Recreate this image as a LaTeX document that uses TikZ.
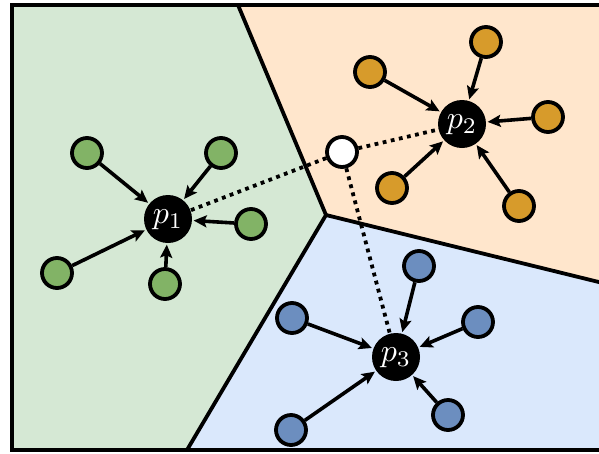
\documentclass[tikz,border=0pt]{standalone}
\usepackage{graphicx}
\usetikzlibrary{arrows.meta}
\definecolor{gregion}{HTML}{D5E8D4}
\definecolor{gnode}{HTML}{82B366}
\definecolor{oregion}{HTML}{FFE6CC}
\definecolor{onode}{HTML}{D79B2B}
\definecolor{bregion}{HTML}{DAE8FC}
\definecolor{bnode}{HTML}{6C8EBF}
\newcommand{\biglab}[1]{\scalebox{3.2}{$#1$}}
\tikzset{
  small/.style={circle,draw=black,line width=3.8pt,minimum size=30pt,inner sep=0pt},
  gn/.style={small,fill=gnode},
  on/.style={small,fill=onode},
  bn/.style={small,fill=bnode},
  wn/.style={small,fill=white},
  center/.style={circle,fill=black,minimum size=48pt,inner sep=0pt,text=white},
  arr/.style={line width=3.6pt,-{Stealth[length=13pt,width=12pt,inset=2.5pt]},shorten <=0pt,shorten >=1.5pt},
  dots/.style={line width=3.8pt,dash pattern=on 3.8pt off 4.5pt},
  edge/.style={line width=3.8pt,line join=miter}
}
\begin{document}
\begin{tikzpicture}[x=1pt,y=-1pt]
\useasboundingbox (0,0) rectangle (599,453);
% regions
\fill[gregion] (12,5) -- (238,5) -- (326,215) -- (187,450) -- (12,450) -- cycle;
\fill[oregion] (238,5) -- (615,5) -- (615,286) -- (326,215) -- cycle;
\fill[bregion] (326,215) -- (615,286) -- (615,450) -- (187,450) -- cycle;
% voronoi edges
\coordinate (v) at (326,215);
\coordinate (vt) at (238,5);
\coordinate (vb) at (187,450);
\coordinate (vr) at (615,286);
\draw[edge] (vt) -- (v) -- (vb);
\draw[edge] (v) -- (vr);
% frame
\draw[line width=3.8pt] (12,5) rectangle (615,450);
% centres
\node[center] (p1) at (168,219) {};
\node[center] (p2) at (462,124) {};
\node[center] (p3) at (396,357) {};
\node[text=white,anchor=center] (l1) at ([yshift=-1pt]p1.center) {\biglab{p_1}};
\node[text=white,anchor=center] (l2) at ([yshift=-1pt]p2.center) {\biglab{p_2}};
\node[text=white,anchor=center] (l3) at ([yshift=-1pt]p3.center) {\biglab{p_3}};
\node[wn] (w) at (342,152) {};
% green
\node[gn] (g1) at (87,153) {};
\node[gn] (g2) at (221,153) {};
\node[gn] (g3) at (251,224) {};
\node[gn] (g4) at (57,273) {};
\node[gn] (g5) at (165,284) {};
% orange
\node[on] (o1) at (370,72) {};
\node[on] (o2) at (486,42) {};
\node[on] (o3) at (548,117) {};
\node[on] (o4) at (392,188) {};
\node[on] (o5) at (519,206) {};
% blue
\node[bn] (b1) at (419,266) {};
\node[bn] (b2) at (478,322) {};
\node[bn] (b3) at (292,318) {};
\node[bn] (b4) at (448,415) {};
\node[bn] (b5) at (291,430) {};
% dotted links
\draw[dots] (w) -- (p1);
\draw[dots] (w) -- (p2);
\draw[dots] (w) -- (p3);
% arrows
\foreach \s in {g1,g2,g3,g4,g5} \draw[arr] (\s) -- (p1);
\foreach \s in {o1,o2,o3,o4,o5} \draw[arr] (\s) -- (p2);
\foreach \s in {b1,b2,b3,b4,b5} \draw[arr] (\s) -- (p3);
\end{tikzpicture}
\end{document}
